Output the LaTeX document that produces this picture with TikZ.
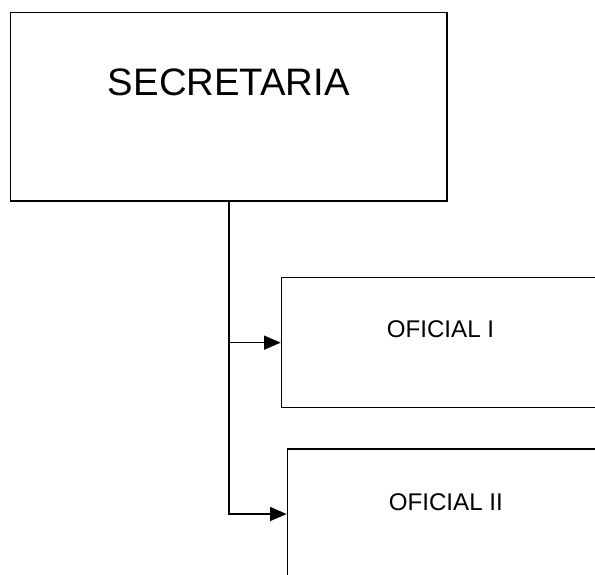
\documentclass[tikz,border=0pt]{standalone}
\usepackage{fontspec}
\setmainfont{Liberation Sans}
\usetikzlibrary{arrows.meta,positioning}

\begin{document}
\begin{tikzpicture}[line join=miter, >={Triangle[length=12.5pt,width=10.5pt]}, x=1pt, y=1pt,
	caja/.style={draw, line width=1.2pt, rectangle, inner sep=0pt, align=center},
	linea/.style={line width=1.2pt}]
	\useasboundingbox (0,0) rectangle (446.25,-430.5);
	\clip (0,0) rectangle (446.25,-430.5);
	
	\node[caja, minimum width=327.2pt, minimum height=141.5pt, font=\fontsize{28.7}{30}\selectfont,
		text height=20.7pt, text depth=37.2pt] (sec) at (171.6,-80) {SECRETARIA};
	
	\node[caja, minimum width=238.5pt, minimum height=97.5pt, font=\fontsize{18.1}{20}\selectfont,
		text height=13pt, text depth=20.5pt, anchor=west] (of1) at (210.5,-257) {OFICIAL I};
	\node[caja, minimum width=237.5pt, minimum height=97.5pt, font=\fontsize{18.1}{20}\selectfont,
		text height=13pt, text depth=19pt, anchor=west] (of2) at (215,-385.5) {OFICIAL II};
	
	\draw[linea, ->] (sec.south) |- (of1.west);
	\draw[linea, ->] (sec.south) |- (of2.west);
\end{tikzpicture}
\end{document}
